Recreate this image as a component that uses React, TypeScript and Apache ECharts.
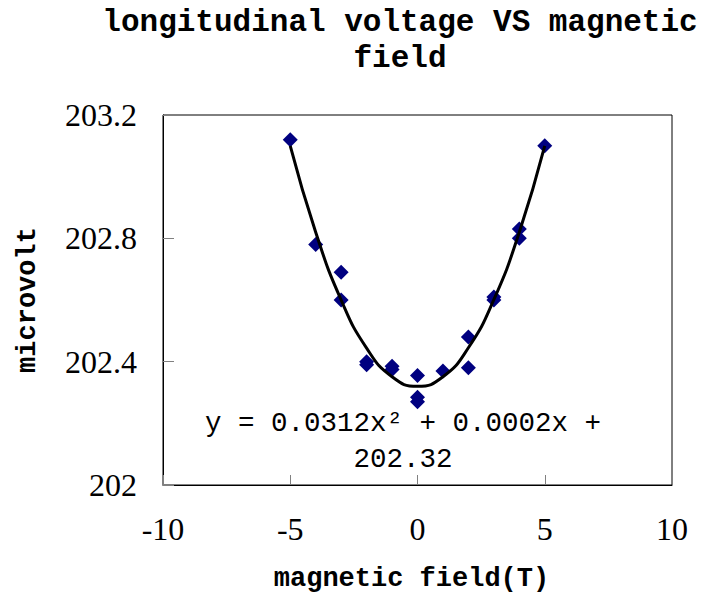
import React, { useEffect, useRef } from "react";
import * as echarts from "echarts";

// Measured points (magnetic field in T, longitudinal voltage in microvolt)
const FIELD_T = [-5, -4, -3, -3, -2, -2, -1, -1, 0, 0, 0, 1, 2, 2, 3, 3, 4, 4, 5];
const VOLTAGE_UV = [
  203.12, 202.78, 202.69, 202.6, 202.4, 202.39, 202.385, 202.375, 202.355, 202.285,
  202.27, 202.37, 202.48, 202.38, 202.61, 202.6, 202.83, 202.8, 203.1,
];

// Polynomial trendline as drawn
const TREND_X = [-5, -4, -3, -2, -1, 0, 1, 2, 3, 4, 5];
const TREND_Y = [203.1, 202.82, 202.6, 202.444, 202.351, 202.32, 202.351, 202.445, 202.601, 202.82, 203.1];

const TITLE_TEXT = "longitudinal voltage VS magnetic\nfield";
const EQUATION_TEXT = "y = 0.0312x² + 0.0002x +\n202.32";
const X_NAME = "magnetic field(T)";
const Y_NAME = "microvolt";

const MONO = "'Liberation Mono', 'DejaVu Sans Mono', monospace";
const SERIF = "'Liberation Serif', 'DejaVu Serif', serif";

export default function App() {
  const ref = useRef<HTMLDivElement>(null);

  useEffect(() => {
    if (!ref.current) return;
    const chart = echarts.init(ref.current, undefined, { renderer: "svg" });
    const points = FIELD_T.map((x, i) => [x, VOLTAGE_UV[i]]);
    const trend = TREND_X.map((x, i) => [x, TREND_Y[i]]);

    chart.setOption({
      animation: false,
      backgroundColor: "#ffffff",
      grid: {
        left: 163,
        right: 30,
        top: 115,
        bottom: 108,
        show: true,
        borderColor: "#000000",
        borderWidth: 1,
        backgroundColor: "transparent",
      },
      xAxis: {
        type: "value",
        min: -10,
        max: 10,
        interval: 5,
        name: X_NAME,
        nameLocation: "middle",
        nameGap: 80,
        nameTextStyle: {
          fontFamily: MONO,
          fontWeight: "bold",
          fontSize: 27,
          color: "#000000",
          padding: [0, 12, 0, 0],
        },
        axisLine: { show: true, onZero: false, lineStyle: { color: "#000000", width: 1 } },
        axisTick: { show: true, inside: true, length: 10, lineStyle: { color: "#808080", width: 1 } },
        axisLabel: { fontFamily: SERIF, fontSize: 32, color: "#000000", margin: 28 },
        splitLine: { show: false },
      },
      yAxis: {
        type: "value",
        min: 202,
        max: 203.2,
        interval: 0.4,
        name: Y_NAME,
        nameLocation: "middle",
        nameGap: 122,
        nameTextStyle: {
          fontFamily: MONO,
          fontWeight: "bold",
          fontSize: 27,
          color: "#000000",
        },
        axisLine: { show: true, onZero: false, lineStyle: { color: "#000000", width: 1 } },
        axisTick: { show: true, inside: true, length: 11, lineStyle: { color: "#808080", width: 1 } },
        axisLabel: { fontFamily: SERIF, fontSize: 32, color: "#000000", margin: 26 },
        splitLine: { show: false },
      },
      graphic: [
        {
          type: "text",
          x: 400,
          y: 4,
          style: {
            text: TITLE_TEXT,
            fontFamily: MONO,
            fontWeight: "bold",
            fontSize: 31,
            lineHeight: 36,
            fill: "#000000",
            align: "center",
            verticalAlign: "top",
          },
        },
        {
          type: "text",
          x: 403,
          y: 405,
          z: 100,
          style: {
            text: EQUATION_TEXT,
            fontFamily: MONO,
            fontSize: 27.5,
            lineHeight: 36,
            fill: "#000000",
            align: "center",
            verticalAlign: "top",
          },
        },
      ],
      series: [
        {
          type: "scatter",
          data: points,
          symbol: "diamond",
          symbolSize: 15,
          itemStyle: { color: "#000080", opacity: 1 },
          z: 2,
        },
        {
          type: "line",
          data: trend,
          smooth: true,
          showSymbol: false,
          symbol: "none",
          lineStyle: { color: "#000000", width: 3 },
          z: 3,
        },
      ],
    });

    return () => chart.dispose();
  }, []);

  return (
    <div
      ref={ref}
      style={{ position: "absolute", left: 0, top: 0, width: 702, height: 597 }}
    />
  );
}
